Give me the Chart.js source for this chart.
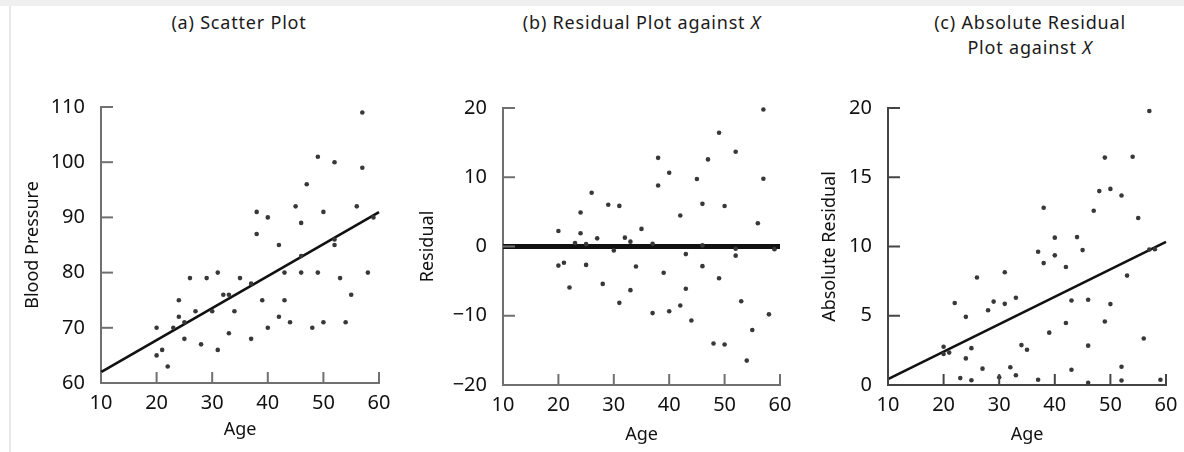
<!DOCTYPE html>
<html>
<head>
<meta charset="utf-8">
<script src="https://cdn.jsdelivr.net/npm/chart.js@4/dist/chart.umd.min.js"></script>
<style>
  html, body { margin:0; padding:0; background:#fff; }
  #page { position:relative; width:1184px; height:452px; overflow:hidden; background:#fff; }
  .topband { position:absolute; left:0; top:0; width:1184px; height:6px; background:#efefef; }
  .leftline { position:absolute; left:9px; top:6px; width:2px; height:446px; background:#e9e9e9; }
  .ttl { position:absolute; font-family:"Noto Sans",sans-serif; letter-spacing:0.8px;
         font-size:18px; color:#1a1a1a; text-align:center; line-height:25px; white-space:nowrap; transform:translateX(-50%); }
  canvas { position:absolute; }
</style>
</head>
<body>
<div id="page">
  <div class="topband"></div>
  <div class="leftline"></div>
  <div class="ttl" style="left:239px; top:10px;">(a) Scatter Plot</div>
  <div class="ttl" style="left:642px; top:10px;">(b) Residual Plot against <i>X</i></div>
  <div class="ttl" style="left:1030px; top:10px;">(c) Absolute Residual<br>Plot against <i>X</i></div>
  <div id="wa" style="position:absolute; left:10px; top:60px; width:390px; height:392px;"><canvas id="chartA"></canvas></div>
  <div id="wb" style="position:absolute; left:400px; top:60px; width:392px; height:392px;"><canvas id="chartB"></canvas></div>
  <div id="wc" style="position:absolute; left:792px; top:60px; width:392px; height:392px;"><canvas id="chartC"></canvas></div>
</div>
<script>
// values (54 women, age vs diastolic blood pressure)
const ages = [27,21,22,24,25,23,20,20,29,24,25,28,26,38,32,33,31,34,37,38,33,35,30,31,37,39,46,49,40,42,43,46,43,44,46,47,45,49,48,40,42,55,54,57,52,53,56,52,50,59,50,52,58,57];
const bloodPressure = [73,66,63,75,71,70,65,70,79,72,68,67,79,91,76,69,66,73,78,87,76,79,73,80,68,75,89,101,70,72,80,83,75,71,80,96,92,80,70,90,85,76,71,99,86,79,92,85,71,90,91,100,80,109];
const residuals = [1.18,-2.34,-5.92,4.92,0.34,0.50,-2.76,2.24,6.02,1.92,-2.66,-5.40,7.76,12.80,1.28,-6.30,-8.14,-2.88,0.38,8.80,0.70,2.54,-0.56,5.86,-9.62,-3.78,6.16,16.42,-9.36,-8.52,-1.10,0.16,-6.10,-10.68,-2.84,12.58,9.74,-4.58,-14.00,10.64,4.48,-12.06,-16.48,9.78,-0.32,-7.90,3.36,-1.32,-14.16,-0.38,5.84,13.68,-9.80,19.78];
const absResiduals = [1.18,2.34,5.92,4.92,0.34,0.50,2.76,2.24,6.02,1.92,2.66,5.40,7.76,12.80,1.28,6.30,8.14,2.88,0.38,8.80,0.70,2.54,0.56,5.86,9.62,3.78,6.16,16.42,9.36,8.52,1.10,0.16,6.10,10.68,2.84,12.58,9.74,4.58,14.00,10.64,4.48,12.06,16.48,9.78,0.32,7.90,3.36,1.32,14.16,0.38,5.84,13.68,9.80,19.78];

// fitted lines, end points at age 10 and 60
const lineAges = [10, 60];
const fitA = [61.96, 90.96];
const zeroB = [0, 0];
const fitC = [0.43, 10.34];

// ticks
const xTicks = [10,20,30,40,50,60];
const xTickLabels = ['10','20','30','40','50','60'];
const yTicksA = [60,70,80,90,100,110];
const yTickLabelsA = ['60','70','80','90','100','110'];
const yTicksB = [-20,-10,0,10,20];
const yTickLabelsB = ['\u221220','\u221210','0','10','20'];
const yTicksC = [0,5,10,15,20];
const yTickLabelsC = ['0','5','10','15','20'];

const tickFont = {family:'"Noto Sans", sans-serif', size:20};
const titleFont = {family:'"Noto Sans", sans-serif', size:18};
const pts = (xs, ys) => xs.map((x, i) => ({x, y: ys[i]}));

// tick marks drawn inward from the axes
const inwardTicks = {
  id:'inwardTicks',
  afterDraw(chart, args, opts){
    const {ctx, scales:{x, y}} = chart;
    ctx.save();
    ctx.strokeStyle = opts.color;
    ctx.lineWidth = 2;
    x.ticks.forEach(t => {
      const px = x.getPixelForValue(t.value);
      ctx.beginPath(); ctx.moveTo(px, y.bottom); ctx.lineTo(px, y.bottom - 11); ctx.stroke();
    });
    y.ticks.forEach(t => {
      const py = y.getPixelForValue(t.value);
      ctx.beginPath(); ctx.moveTo(x.left, py); ctx.lineTo(x.left + 12, py); ctx.stroke();
    });
    ctx.restore();
  }
};

function makePanel(id, cfg){
  return new Chart(document.getElementById(id), {
    type:'scatter',
    data:{
      datasets:[
        {
          data: pts(ages, cfg.values),
          pointRadius: 2.3,
          pointBackgroundColor:'#383838',
          pointBorderWidth:0,
          clip:false,
          order:1
        },
        {
          data: pts(lineAges, cfg.line),
          showLine:true,
          borderColor:'#111',
          borderWidth: cfg.lineWidth,
          pointRadius:0,
          clip:false,
          order:2
        }
      ]
    },
    plugins:[inwardTicks],
    options:{
      responsive:true,
      maintainAspectRatio:false,
      animation:false,
      layout:{padding: cfg.pad},
      plugins:{
        legend:{display:false},
        tooltip:{enabled:false},
        inwardTicks:{color: cfg.axisColor}
      },
      scales:{
        x:{
          type:'linear', min:10, max:60,
          grid:{display:false},
          border:{display:true, color: cfg.axisColor, width:2},
          afterBuildTicks: s => { s.ticks = xTicks.map(v => ({value:v})); },
          afterFit: s => { s.height = cfg.xh; },
          ticks:{font:tickFont, color:'#111', padding:0, maxRotation:0,
                 callback:(v, i) => xTickLabels[i]},
          title:{display:true, text:'Age', font:titleFont, color:'#111', padding:0}
        },
        y:{
          type:'linear', min: cfg.yTicks[0], max: cfg.yTicks[cfg.yTicks.length-1],
          grid:{display:false},
          border:{display:true, color: cfg.axisColor, width:2},
          afterBuildTicks: s => { s.ticks = cfg.yTicks.map(v => ({value:v})); },
          afterFit: s => { s.width = cfg.yw; },
          ticks:{font:tickFont, color:'#111', padding:8,
                 callback:(v, i) => cfg.yLabels[i]},
          title:{display:true, text: cfg.yTitle, font:titleFont, color:'#111', padding:0}
        }
      }
    }
  });
}

makePanel('chartA', {
  values: bloodPressure, line: fitA, lineWidth: 2.6,
  yTicks: yTicksA, yLabels: yTickLabelsA, yTitle:'Blood Pressure',
  axisColor:'#707070', pad:{left:12, right:21, top:47, bottom:11}, yw:79, xh:58
});
makePanel('chartB', {
  values: residuals, line: zeroB, lineWidth: 5,
  yTicks: yTicksB, yLabels: yTickLabelsB, yTitle:'Residual',
  axisColor:'#707070', pad:{left:17, right:12, top:48, bottom:6}, yw:86, xh:61
});
makePanel('chartC', {
  values: absResiduals, line: fitC, lineWidth: 2.6,
  yTicks: yTicksC, yLabels: yTickLabelsC, yTitle:'Absolute Residual',
  axisColor:'#444', pad:{left:27, right:18, top:48, bottom:6}, yw:69, xh:61
});
</script>
</body>
</html>
